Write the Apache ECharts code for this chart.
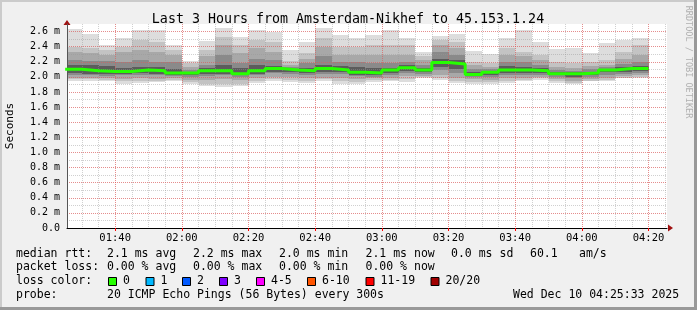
<!DOCTYPE html>
<html><head><meta charset="utf-8">
<script src="https://cdn.jsdelivr.net/npm/echarts@6/dist/echarts.min.js"></script>
<style>html,body{margin:0;padding:0;background:#f0f0f0;}#c{width:697px;height:310px;}</style>
</head><body><div id="c"></div>
<script>
// ---- data (values in milliseconds) ----
const windowStart = "01:25:33";
const windowEnd = "04:25:33";
const colEnd = ["01:30","01:35","01:40","01:45","01:50","01:55","02:00","02:05","02:10","02:15","02:20","02:25","02:30","02:35","02:40","02:45","02:50","02:55","03:00","03:05","03:10","03:15","03:20","03:25","03:30","03:35","03:40","03:45","03:50","03:55","04:00","04:05","04:10","04:15","04:20"];
const xTickLabels = ["01:40","02:00","02:20","02:40","03:00","03:20","03:40","04:00","04:20"];
const maxV = [2.63,2.57,2.42,2.52,2.62,2.62,2.42,2.21,2.48,2.65,2.53,2.62,2.59,2.35,2.46,2.65,2.55,2.51,2.56,2.62,2.51,2.33,2.54,2.57,2.34,2.30,2.52,2.62,2.46,2.37,2.38,2.31,2.45,2.49,2.51];
const up2  = [2.40,2.38,2.35,2.40,2.49,2.46,2.35,2.18,2.35,2.53,2.42,2.49,2.46,2.21,2.31,2.51,2.40,2.40,2.42,2.42,2.42,2.27,2.49,2.46,2.20,2.18,2.38,2.33,2.29,2.20,2.18,2.20,2.22,2.33,2.42];
const up3  = [2.33,2.31,2.29,2.33,2.35,2.33,2.29,2.13,2.27,2.42,2.31,2.38,2.33,2.16,2.24,2.40,2.29,2.29,2.29,2.29,2.29,2.22,2.42,2.38,2.16,2.13,2.29,2.27,2.22,2.13,2.12,2.15,2.16,2.24,2.29];
const up4  = [2.22,2.21,2.21,2.20,2.22,2.20,2.20,2.09,2.16,2.29,2.18,2.24,2.22,2.13,2.18,2.27,2.20,2.20,2.18,2.18,2.20,2.16,2.33,2.29,2.11,2.10,2.20,2.20,2.16,2.09,2.08,2.10,2.13,2.17,2.20];
const up5  = [2.16,2.16,2.15,2.12,2.13,2.13,2.11,2.07,2.12,2.16,2.12,2.16,2.15,2.11,2.12,2.16,2.15,2.13,2.12,2.12,2.16,2.12,2.24,2.22,2.07,2.08,2.14,2.13,2.12,2.07,2.06,2.07,2.11,2.13,2.14];
const median = [2.10,2.08,2.07,2.07,2.09,2.08,2.05,2.05,2.08,2.08,2.04,2.08,2.11,2.09,2.08,2.11,2.09,2.06,2.05,2.09,2.12,2.09,2.19,2.17,2.03,2.06,2.09,2.09,2.08,2.04,2.04,2.05,2.09,2.11,2.11];
const lo5  = [2.05,2.04,2.04,2.04,2.05,2.04,2.03,2.02,2.04,2.04,2.02,2.04,2.07,2.06,2.05,2.07,2.06,2.03,2.02,2.05,2.08,2.06,2.13,2.11,2.01,2.02,2.05,2.05,2.05,2.02,2.00,2.02,2.06,2.07,2.08];
const lo4  = [2.02,2.02,2.01,2.02,2.03,2.02,2.01,2.00,2.01,2.02,2.00,2.02,2.05,2.04,2.03,2.04,2.04,2.01,2.00,2.03,2.05,2.04,2.09,2.05,2.00,2.00,2.02,2.02,2.02,2.00,1.98,2.00,2.03,2.04,2.05];
const lo3  = [1.99,1.99,1.98,1.97,1.98,1.97,1.98,1.96,1.96,1.97,1.96,1.98,2.00,2.00,1.99,1.99,1.98,1.97,1.98,1.98,2.01,2.01,2.03,1.98,1.97,1.96,1.98,1.99,2.00,1.97,1.95,1.97,1.99,2.01,2.02];
const lo2  = [1.97,1.97,1.96,1.94,1.95,1.95,1.96,1.93,1.91,1.91,1.91,1.95,1.97,1.96,1.95,1.97,1.94,1.93,1.96,1.96,1.97,2.00,1.99,1.95,1.93,1.93,1.95,1.96,1.98,1.94,1.92,1.95,1.96,1.99,2.00];
const minV = [1.94,1.95,1.94,1.91,1.92,1.93,1.95,1.90,1.88,1.87,1.88,1.92,1.95,1.93,1.92,1.95,1.90,1.90,1.93,1.94,1.93,1.98,1.96,1.92,1.90,1.90,1.92,1.94,1.96,1.92,1.90,1.94,1.94,1.98,1.99];
const lossLabels = ["0","1","2","3","4-5","6-10","11-19","20/20"];
const lossColors = ["#26ff00","#00b8ff","#0059ff","#7e00ff","#ff00ff","#ff5500","#ff0000","#a10000"];

// ---- build ----
const toMin = s => { const p = s.split(':').map(Number); return p[0]*60 + p[1] + (p[2]||0)/60; };
const X_MIN = toMin(windowStart), X_MAX = toMin(windowEnd);
const STEP = 5;
const ends = colEnd.map(toMin);
const smokeData = ends.map((e,i)=>[e-STEP, e, maxV[i], up2[i], up3[i], up4[i], up5[i], lo5[i], lo4[i], lo3[i], lo2[i], minV[i]]);
const medData = [[ends[0]-STEP, median[0]]].concat(ends.map((e,i)=>[e, median[i]]));
const majorX = xTickLabels.map(toMin);
const minorX = []; for (let t = Math.ceil(X_MIN/STEP)*STEP; t <= X_MAX; t += STEP) minorX.push(t);
const pad = n => (n<10?'0':'')+n;
const fmtT = v => pad(Math.floor(Math.round(v)/60)) + ':' + pad(Math.round(v)%60);
const SMOKE = ['#dddddd','#c3c3c3','#a8a8a8','#8a8a8a','#5c5c5c'];
const MONO = '"DejaVu Sans Mono", monospace';

const chart = echarts.init(document.getElementById('c'), null, {renderer:'canvas'});
const gridMinor = {show:true, lineStyle:{color:'rgba(150,150,150,0.45)', width:1, type:[1,1]}};
const gridMajor = {show:true, lineStyle:{color:'rgba(255,60,60,0.45)', width:1, type:[1,1]}};

const legendY = [254, 267.5, 281.5, 295.5];
const graphics = [];
function txt(x, y, s, extra) { graphics.push(Object.assign({type:'text', x, y, style:{text:s, font:'11.5px '+MONO, fill:'#000', textVerticalAlign:'middle'}}, extra||{})); }
txt(16, legendY[0], 'median rtt:');
[[107,'2.1 ms avg'],[193,'2.2 ms max'],[279,'2.0 ms min'],[365.5,'2.1 ms now'],[451,'0.0 ms sd'],[530,'60.1'],[579,'am/s']].forEach(p=>txt(p[0], legendY[0], p[1]));
txt(16, legendY[1], 'packet loss:');
[[107,'0.00 % avg'],[193,'0.00 % max'],[279,'0.00 % min'],[365.5,'0.00 % now']].forEach(p=>txt(p[0], legendY[1], p[1]));
txt(16, legendY[2], 'loss color:');
const boxX = [108.5,146,182.5,219.5,256.5,307.5,366,431];
lossLabels.forEach((l,i)=>{
  graphics.push({type:'rect', shape:{x:boxX[i], y:277.5, width:8, height:8}, style:{fill:lossColors[i], stroke:'#000', lineWidth:1}});
  txt(boxX[i]+14.5, legendY[2], l);
});
txt(16, legendY[3], 'probe:');
txt(107, legendY[3], '20 ICMP Echo Pings (56 Bytes) every 300s');
txt(513, legendY[3], 'Wed Dec 10 04:25:33 2025');
// title & axis name
graphics.push({type:'text', x:348, y:20, style:{text:'Last 3 Hours from Amsterdam-Nikhef to 45.153.1.24', font:'13.3px '+MONO, fill:'#000', textAlign:'center', textVerticalAlign:'middle'}});
graphics.push({type:'text', x:10.5, y:126, rotation:Math.PI/2, style:{text:'Seconds', font:'11px '+MONO, fill:'#000', textAlign:'center', textVerticalAlign:'middle'}});
graphics.push({type:'text', x:688, y:62, rotation:-Math.PI/2, style:{text:'RRDTOOL / TOBI OETIKER', font:'8.5px '+MONO, fill:'#b0b0b0', textAlign:'center', textVerticalAlign:'middle'}});
// frame
graphics.push({type:'rect', shape:{x:0,y:0,width:697,height:2}, style:{fill:'#cbcbcb'}});
graphics.push({type:'rect', shape:{x:0,y:0,width:2,height:310}, style:{fill:'#cbcbcb'}});
graphics.push({type:'rect', shape:{x:0,y:307,width:697,height:3}, style:{fill:'#999999'}});
graphics.push({type:'rect', shape:{x:694,y:0,width:3,height:310}, style:{fill:'#999999'}});

const option = {
  animation:false,
  backgroundColor:'#f0f0f0',
  grid:{left:67, top:24, width:600, height:204, show:true, backgroundColor:'#ffffff', borderWidth:0},
  xAxis:[
    {type:'value', min:X_MIN, max:X_MAX, position:'bottom', z:3,
     axisLine:{show:true, lineStyle:{color:'#000', width:1}},
     axisTick:{show:true, customValues:majorX, length:3, inside:false, lineStyle:{color:'#ff0000'}},
     axisLabel:{customValues:majorX, formatter:fmtT, color:'#000', fontFamily:MONO, fontSize:10.5, margin:5},
     splitLine:gridMajor},
    {type:'value', min:X_MIN, max:X_MAX, position:'bottom', z:2,
     axisLine:{show:false}, axisLabel:{show:false},
     axisTick:{show:false, customValues:minorX},
     splitLine:gridMinor}
  ],
  yAxis:[
    {type:'value', min:0, max:2.7, interval:0.2, position:'left', z:3,
     axisLine:{show:true, lineStyle:{color:'#555', width:1}},
     axisTick:{show:false},
     axisLabel:{showMaxLabel:false, color:'#000', fontFamily:MONO, fontSize:10, margin:7,
       formatter:v=> v===0 ? '0.0' : v.toFixed(1)+' m'},
     splitLine:Object.assign({showMaxLine:false, showMinLine:false}, gridMajor)},
    {type:'value', min:0, max:2.7, interval:0.1, position:'left', z:2,
     axisLine:{show:false}, axisTick:{show:false}, axisLabel:{show:false},
     splitLine:Object.assign({showMaxLine:false, showMinLine:false}, gridMinor)}
  ],
  series:[
    {type:'custom', name:'smoke', xAxisIndex:0, yAxisIndex:0, z:1, clip:true,
     data:smokeData, encode:{x:[0,1], y:[2,3,4,5,6,7,8,9,10,11]},
     renderItem(params, api){
       const x0 = Math.max(api.value(0), X_MIN), x1 = api.value(1);
       const children = [];
       for (let i=0;i<5;i++){
         const a = api.coord([x0, api.value(2+i)]);
         const b = api.coord([x1, api.value(11-i)]);
         children.push({type:'rect', shape:{x:Math.round(a[0]), y:Math.round(a[1]), width:Math.round(b[0])-Math.round(a[0]), height:Math.round(b[1])-Math.round(a[1])}, style:{fill:SMOKE[i]}});
       }
       return {type:'group', children};
     }},
    {type:'line', name:'median', xAxisIndex:0, yAxisIndex:0, z:4, data:medData, step:'start',
     symbol:'none', lineStyle:{color:'#26ff00', width:3}, clip:true}
  ],
  graphic:graphics
};
chart.setOption(option);
// axis arrows at the axis ends
const pTop = chart.convertToPixel({xAxisIndex:0, yAxisIndex:0}, [X_MIN, 2.7]);
const pRight = chart.convertToPixel({xAxisIndex:0, yAxisIndex:0}, [X_MAX, 0]);
const ax = Math.round(pTop[0]), ay = Math.round(pTop[1]);
const bx = Math.round(pRight[0]), by = Math.round(pRight[1]);
chart.setOption({graphic:graphics.concat([
  {type:'polygon', shape:{points:[[ax-3.5,ay+1],[ax+3.5,ay+1],[ax,ay-4]]}, style:{fill:'#a01010'}},
  {type:'polygon', shape:{points:[[bx+1,by-3.5],[bx+1,by+3.5],[bx+6,by]]}, style:{fill:'#a01010'}}
])});
</script></body></html>
